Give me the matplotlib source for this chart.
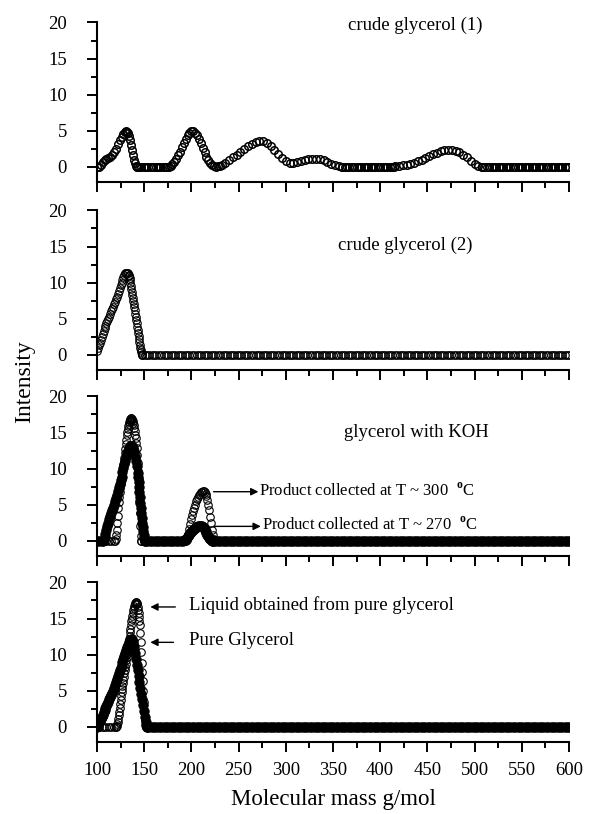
import matplotlib
matplotlib.use('Agg')
import matplotlib.pyplot as plt
import numpy as np

plt.rcParams['font.family'] = 'Liberation Serif'
plt.rcParams['mathtext.fontset'] = 'custom'
plt.rcParams['mathtext.rm'] = 'Liberation Serif'
plt.rcParams['mathtext.bf'] = 'Liberation Serif:bold'

# ---- data (molecular mass g/mol, intensity) ----
# crude glycerol (1)
crude1_x = [100, 102, 104, 106, 108, 110, 112, 114, 116, 118, 120, 122, 124, 126, 128, 130,
            131, 132, 133, 134, 135, 136, 137, 138, 139, 140, 141, 142,
            176, 178, 180, 182, 184, 186, 188, 190, 192, 194, 196, 198, 200, 202, 204, 206,
            208, 210, 212, 214, 216, 218, 220, 222, 224, 226, 228, 230,
            232, 236, 240, 244, 248, 252, 256, 260, 264, 268, 272, 276, 280, 284, 288, 292,
            296, 300, 304, 308, 312, 316, 320, 324, 328, 332, 336, 340, 344, 348, 352, 356, 360,
            416, 420, 424, 428, 432, 436, 440, 444, 448, 452, 456, 460, 464, 468, 472, 476,
            480, 484, 488, 492, 496, 500, 504, 508]
crude1_y = [0, 0, 0.2, 0.7, 1.0, 1.1, 1.2, 1.3, 1.6, 2.0, 2.5, 3.1, 3.7, 4.2, 4.6, 4.85,
            4.9, 4.85, 4.7, 4.3, 3.7, 3.0, 2.3, 1.6, 1.0, 0.5, 0.15, 0,
            0, 0.1, 0.35, 0.7, 1.1, 1.6, 2.1, 2.7, 3.3, 3.9, 4.4, 4.75, 4.9, 4.9, 4.75, 4.4,
            3.9, 3.3, 2.6, 2.0, 1.4, 0.9, 0.5, 0.2, 0.05, 0, 0.05, 0.15,
            0.25, 0.55, 0.9, 1.3, 1.7, 2.1, 2.5, 2.85, 3.2, 3.45, 3.6, 3.55, 3.35, 2.95, 2.4, 1.8,
            1.2, 0.75, 0.55, 0.55, 0.65, 0.8, 0.95, 1.05, 1.1, 1.1, 1.05, 0.9, 0.7, 0.45, 0.25, 0.1, 0,
            0.05, 0.1, 0.2, 0.3, 0.45, 0.6, 0.8, 1.0, 1.25, 1.5, 1.75, 1.95, 2.15, 2.3, 2.35, 2.35,
            2.2, 2.0, 1.7, 1.3, 0.85, 0.45, 0.15, 0]
crude1_zero = [(142, 176), (360, 416), (508, 601)]

# crude glycerol (2)
crude2_x = [100, 101, 102, 103, 104, 105, 106, 107, 108, 109, 110, 111, 112, 113, 114, 115,
            116, 117, 118, 119, 120, 121, 122, 123, 124, 125, 126, 127, 128, 129, 130, 131, 132,
            133, 133.5, 134, 134.5, 135, 135.5, 136, 136.5, 137, 137.5, 138, 138.5, 139, 139.5,
            140, 140.5, 141, 141.5, 142, 142.5, 143, 143.5, 144, 144.5, 145, 145.5, 146, 146.5,
            147, 147.5, 148]
crude2_y = [0.5, 0.9, 1.3, 1.7, 2.1, 2.5, 2.9, 3.3, 3.7, 4.0, 4.4, 4.7, 5.0, 5.3, 5.6, 6.0,
            6.3, 6.6, 7.0, 7.3, 7.7, 8.0, 8.4, 8.8, 9.2, 9.6, 10.0, 10.4, 10.8, 11.1, 11.3, 11.4, 11.4,
            11.3, 11.1, 10.9, 10.6, 10.3, 9.9, 9.5, 9.1, 8.7, 8.3, 7.9, 7.5, 7.0, 6.6,
            6.2, 5.7, 5.3, 4.8, 4.4, 3.9, 3.5, 3.0, 2.6, 2.2, 1.8, 1.4, 1.0, 0.7,
            0.4, 0.15, 0]
crude2_zero = [(148, 601)]

# glycerol with KOH, product collected at T ~ 300 C (open circles)
koh300_x = [119.5, 120, 120.5, 121, 121.5, 122, 122.5, 123, 123.5, 124,
            124.5, 125, 125.5, 126, 126.5, 127, 127.5, 128, 128.5, 129,
            129.5, 130, 130.5, 131, 131.5, 132, 132.5, 133, 133.5, 134,
            134.5, 135, 135.5, 136, 136.5, 137, 137.5, 138, 138.5, 139,
            139.5, 140, 140.5, 141, 141.5, 142, 142.5, 143, 143.5, 144,
            144.5, 145, 145.5, 146, 146.5, 147,
            194, 195, 196, 197, 198, 199, 200, 201, 202, 203, 204, 205, 206, 207, 208, 209,
            210, 211, 212, 213, 214, 215, 216, 217, 218, 219, 220, 221, 222, 223, 224, 225, 226]
koh300_y = [0, 0.3, 0.8, 1.5, 2.4, 3.4, 4.5, 5.4, 6.1, 6.7,
            7.3, 7.8, 8.3, 8.8, 9.3, 9.7, 10.1, 10.5, 11.0, 11.5,
            12.1, 12.7, 13.4, 14.0, 14.6, 15.1, 15.5, 15.9, 16.2, 16.45,
            16.65, 16.8, 16.9, 16.95, 16.95, 16.9, 16.75, 16.55, 16.3, 16.0,
            15.6, 15.2, 14.7, 14.2, 13.5, 12.8, 11.9, 10.8, 9.7, 8.5,
            7.0, 5.5, 3.8, 2.0, 0.6, 0,
            0, 0.1, 0.5, 1.0, 1.6, 2.3, 3.0, 3.6, 4.1, 4.6, 5.0, 5.5, 5.8, 6.1, 6.35, 6.55,
            6.7, 6.8, 6.85, 6.85, 6.75, 6.5, 6.15, 5.65, 5.0, 4.2, 3.3, 2.4, 1.5, 0.8, 0.3, 0.05, 0]
koh300_zero = [(100, 119.5), (147, 194), (226, 601)]

# glycerol with KOH, product collected at T ~ 270 C (filled)
koh270_x = [106, 107, 108, 109, 110, 111, 112, 113, 114, 115, 116, 117, 118, 119, 120, 121,
            122, 123, 124, 125, 126, 127, 128, 129, 130, 131, 132, 133, 134, 135, 136, 137,
            138, 139, 140, 141, 142, 143,
            143.5, 144, 144.5, 145, 145.5, 146, 146.5, 147, 147.5, 148, 148.5, 149, 149.5,
            150, 150.5, 151,
            191, 192, 193, 194, 195, 196, 197, 198, 199, 200, 201, 202, 203, 204, 205, 206,
            207, 208, 209, 210, 211, 212, 213, 214, 215, 216, 217, 218, 219, 220, 221, 222, 223]
koh270_y = [0, 0.1, 0.5, 1.0, 1.5, 2.0, 2.5, 3.0, 3.4, 3.8, 4.2, 4.6, 5.0, 5.5, 5.9, 6.4,
            6.9, 7.4, 7.9, 8.4, 8.9, 9.5, 10.1, 10.6, 11.1, 11.6, 12.1, 12.5, 12.9, 13.1, 13.2, 13.1,
            12.8, 12.4, 11.8, 11.1, 10.3, 9.4,
            8.8, 8.1, 7.4, 6.7, 6.0, 5.3, 4.6, 3.9, 3.2, 2.5, 1.9, 1.3, 0.8,
            0.4, 0.1, 0,
            0, 0.05, 0.15, 0.3, 0.45, 0.6, 0.75, 0.9, 1.05, 1.2, 1.35, 1.5, 1.65, 1.8, 1.9, 1.98,
            2.03, 2.07, 2.08, 2.05, 2.0, 1.9, 1.75, 1.55, 1.35, 1.1, 0.85, 0.6, 0.4, 0.2, 0.1, 0.03, 0]
koh270_zero = [(100, 106), (151, 191), (223, 601)]

# liquid obtained from pure glycerol (open circles)
liquid_x = [120.5, 121, 121.5, 122, 122.5, 123, 123.5, 124, 124.5, 125,
            125.5, 126, 126.5, 127, 127.5, 128, 128.5, 129, 129.5, 130,
            130.5, 131, 131.5, 132, 132.5, 133, 133.5, 134, 134.5, 135,
            135.5, 136, 136.5, 137, 137.5, 138, 138.5, 139, 139.5, 140,
            140.5, 141, 141.5, 142, 142.5, 143, 143.5, 144, 144.5, 145,
            145.5, 146, 146.5, 147, 147.5, 148, 148.5, 149, 149.5, 150,
            150.5, 151, 151.5]
liquid_y = [0, 0.1, 0.35, 0.7, 1.1, 1.6, 2.1, 2.6, 3.1, 3.7,
            4.2, 4.8, 5.3, 5.7, 6.1, 6.5, 6.9, 7.4, 7.8, 8.3,
            8.7, 9.2, 9.6, 10.1, 10.6, 11.1, 11.6, 12.1, 12.6, 13.1,
            13.6, 14.1, 14.6, 15.0, 15.4, 15.8, 16.2, 16.5, 16.8, 17.0,
            17.2, 17.3, 17.3, 17.2, 17.0, 16.6, 16.2, 15.7, 15.2, 14.7,
            14.1, 13.0, 11.7, 10.3, 8.9, 7.6, 6.3, 5.0, 3.5, 2.1,
            0.9, 0.2, 0]
liquid_zero = [(100, 120.5), (151.5, 601)]

# pure glycerol (filled)
pure_x = [100, 101, 102, 103, 104, 105, 106, 107, 108, 109, 110, 111, 112, 113, 114, 115,
          116, 117, 118, 119, 120, 121, 122, 123, 124, 125, 126, 127, 128, 129, 130, 131,
          132, 133, 134, 135, 136, 137, 138, 139, 140, 141, 142, 143, 144, 145, 146, 147,
          148, 149, 150, 151, 152, 153]
pure_y = [0, 0.2, 0.5, 0.8, 1.1, 1.4, 1.7, 2.0, 2.3, 2.6, 2.9, 3.2, 3.5, 3.8, 4.1, 4.4,
          4.7, 5.0, 5.4, 5.8, 6.2, 6.6, 7.0, 7.4, 7.8, 8.2, 8.6, 9.0, 9.4, 9.8, 10.2, 10.6,
          11.0, 11.4, 11.7, 12.0, 12.2, 12.2, 11.7, 11.0, 10.2, 9.4, 8.6, 7.8, 7.0, 6.2, 5.4, 4.6,
          3.8, 3.0, 2.2, 1.4, 0.7, 0]
pure_zero = [(153, 601)]

x_ticks = [100, 150, 200, 250, 300, 350, 400, 450, 500, 550, 600]
y_ticks = [0, 5, 10, 15, 20]


def plot_series(ax, xs, ys, zero_runs, filled=False, step=2.5, mew=0.8):
    """peak points plus the flat zero stretches between them"""
    bx = np.concatenate([np.arange(a, b, step) for a, b in zero_runs])
    x = np.concatenate([bx, xs])
    y = np.concatenate([np.zeros(len(bx)), ys])
    if filled:
        ax.plot(x, y, 'o', ls='none', mfc='black', mec='black', ms=6.8, mew=0.6, zorder=2)
    else:
        ax.plot(x, y, 'o', ls='none', mfc='none', mec='black', ms=5.4, mew=mew, zorder=3)


def style_axis(ax, bottom=False):
    ax.set_xlim(100, 600)
    ax.set_ylim(-2.1, 20)
    for s in ['top', 'right']:
        ax.spines[s].set_visible(False)
    for s in ['left', 'bottom']:
        ax.spines[s].set_linewidth(1.5)
    ax.spines['left'].set_bounds(-2.1, 20)
    ax.set_xticks(x_ticks)
    ax.set_xticks([x + 25 for x in x_ticks[:-1]], minor=True)
    ax.set_yticks(y_ticks)
    ax.set_yticks([y + 2.5 for y in y_ticks[:-1]], minor=True)
    ax.tick_params(which='major', direction='out', length=7.5, width=1.4, labelsize=13.5)
    ax.tick_params(which='minor', direction='out', length=4, width=1.4)
    ax.tick_params(axis='y', which='major', pad=14)
    ax.tick_params(axis='x', which='major', pad=7, labelbottom=bottom)


arrow = dict(arrowstyle='-|>', color='black', lw=1.0, mutation_scale=11,
             shrinkA=0, shrinkB=0)

fig = plt.figure(figsize=(5.91, 8.14), dpi=100)
left, width, height = 0.1641, 0.7986, 0.1960
bottoms = [0.7764, 0.5455, 0.3170, 0.0885]
axes = [fig.add_axes([left, b, width, height]) for b in bottoms]

ax = axes[0]
plot_series(ax, crude1_x, crude1_y, crude1_zero, mew=1.1)
ax.text(437, 19.6, 'crude glycerol (1)', ha='center', va='center', fontsize=13.5)

ax = axes[1]
plot_series(ax, crude2_x, crude2_y, crude2_zero)
ax.text(427, 15.1, 'crude glycerol (2)', ha='center', va='center', fontsize=13.5)

ax = axes[2]
plot_series(ax, koh270_x, koh270_y, koh270_zero, filled=True)
plot_series(ax, koh300_x, koh300_y, koh300_zero)
ax.text(438, 15.0, 'glycerol with KOH', ha='center', va='center', fontsize=13.5)
ax.annotate('', xy=(271, 6.8), xytext=(223.5, 6.8), arrowprops=arrow)
ax.text(272, 6.9, r'Product collected at T ~ 300  $^{\mathbf{o}}$C', ha='left', va='center',
        fontsize=12)
ax.annotate('', xy=(273.5, 2.0), xytext=(223.5, 2.0), arrowprops=arrow)
ax.text(275, 2.2, r'Product collected at T ~ 270  $^{\mathbf{o}}$C', ha='left', va='center',
        fontsize=12)

ax = axes[3]
plot_series(ax, pure_x, pure_y, pure_zero, filled=True)
plot_series(ax, liquid_x, liquid_y, liquid_zero)
ax.annotate('', xy=(156.5, 16.6), xytext=(183, 16.6), arrowprops=arrow)
ax.text(197, 16.8, 'Liquid obtained from pure glycerol', ha='left', va='center', fontsize=13.5)
ax.annotate('', xy=(156.5, 11.7), xytext=(181, 11.7), arrowprops=arrow)
ax.text(197, 11.9, 'Pure Glycerol', ha='left', va='center', fontsize=13.5)

for i, ax in enumerate(axes):
    style_axis(ax, bottom=(i == len(axes) - 1))

fig.text(0.0423, 0.5307, 'Intensity', rotation=90, ha='center', va='center', fontsize=17)
fig.text(0.5635, 0.0172, 'Molecular mass g/mol', ha='center', va='center', fontsize=16.5)

fig.savefig('out.png', dpi=100)
